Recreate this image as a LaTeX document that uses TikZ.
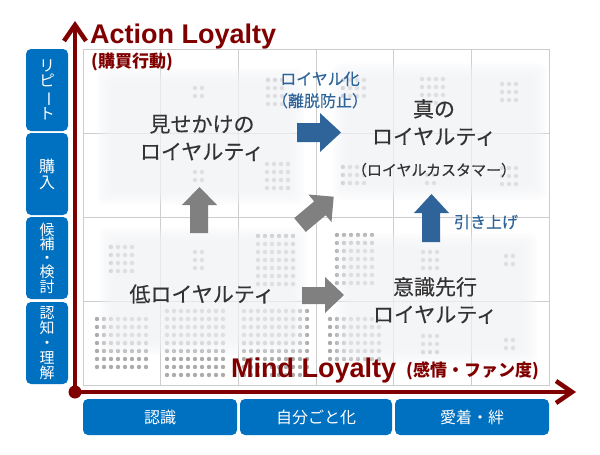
\documentclass[tikz,border=0pt]{standalone}
\usepackage{fontspec}
\usepackage{graphicx}
\setmainfont{Liberation Sans}
\newfontfamily\jp{Noto Sans CJK JP}
\newfontfamily\jpm{Noto Sans CJK JP}[FakeBold=0.35]
\usetikzlibrary{arrows.meta}
\definecolor{axred}{RGB}{128,0,0}
\definecolor{boxblue}{RGB}{0,112,192}
\definecolor{arrblue}{RGB}{46,100,153}
\definecolor{arrgray}{RGB}{128,128,128}
\definecolor{gridgray}{RGB}{205,205,205}
\definecolor{dotgray}{RGB}{172,172,172}
\definecolor{shadecol}{RGB}{241,242,245}
\definecolor{txt}{RGB}{51,51,51}
\newcommand\dotblock[4]{%
  \foreach \i in {1,...,#3}{\foreach \j in {1,...,#4}{%
    \fill[dotgray] ({#1+(\i-1)*7},{#2+(\j-1)*8}) circle (2.2);}}}
\newcommand\softrect[4]{%
  \foreach \k in {-4,...,4}{%
    \fill[shadecol, fill opacity=0.15, rounded corners=8pt]
      ({#1-\k*1.8},{#2-\k*1.8}) rectangle ({#3+\k*1.8},{#4+\k*1.8});}}
\tikzset{
  gridline/.style={gridgray, line width=0.8pt},
  vbox/.style={fill=boxblue, rounded corners=5pt, minimum width=42pt, text=white, align=center, inner sep=0pt},
  hbox/.style={fill=boxblue, rounded corners=5pt, minimum height=36pt, text=white, inner sep=0pt, font=\jp\fontsize{16}{18}\selectfont},
  lbl/.style={text=txt, align=center, font=\jpm\fontsize{21}{27.5}\selectfont, inner sep=0pt},
  bluelbl/.style={text=arrblue, align=center, font=\jpm\fontsize{16}{22}\selectfont, inner sep=0pt},
  axis/.style={axred, line width=4.5pt},
}
\begin{document}
\begin{tikzpicture}[x=1pt,y=-1pt]
\useasboundingbox (0,0) rectangle (600,455);
% grid
\draw[gridline] (83,49) rectangle (549,385);
\foreach \x in {160,238,316,393,471} \draw[gridline] (\x,49) -- (\x,385);
\foreach \y in {133,217,301} \draw[gridline] (83,\y) -- (549,\y);
% dots
\dotblock{111}{247}{4}{4}
\dotblock{195}{252}{2}{3}
\dotblock{258}{236}{6}{7}
\dotblock{97}{319}{8}{7}
\dotblock{167}{311}{9}{9}
\dotblock{244}{311}{10}{9}
\dotblock{337}{235}{6}{7}
\dotblock{423}{252}{3}{3}
\dotblock{506}{256}{2}{2}
\dotblock{330}{319}{8}{6}
\dotblock{423}{336}{3}{3}
\dotblock{506}{340}{2}{2}
\dotblock{195}{88}{2}{2}
\dotblock{268}{80}{3}{4}
\dotblock{343}{80}{4}{3}
\dotblock{267}{164}{4}{4}
\dotblock{195}{172}{2}{2}
\dotblock{422}{79}{4}{4}
\dotblock{502}{84}{3}{3}
\dotblock{343}{167}{4}{3}
\dotblock{427}{175}{2}{2}
\dotblock{502}{168}{3}{3}
% soft shaded regions
\softrect{104}{75}{297}{198}
\softrect{340}{70}{540}{193}
\softrect{106}{234}{300}{348}
\softrect{342}{240}{530}{357}
% axes
\coordinate (O) at (75,392);
\coordinate (ytip) at (75,21);
\coordinate (xtip) at (576,392);
\draw[axis, {Straight Barb[length=16pt,width=22pt]}-{Straight Barb[length=16pt,width=22pt]}] (ytip) -- (O) -- (xtip);
\fill[axred] (O) circle (6.5);
\node[anchor=base west, text=axred, font=\bfseries\fontsize{27}{30}\selectfont, inner sep=0pt] (action) at (90,43) {Action Loyalty};
\node[anchor=base west, text=axred, font=\jp\bfseries\fontsize{17}{20}\selectfont, inner sep=0pt] (actionjp) at (91,67.5) {(購買行動)};
\node[anchor=base west, text=axred, font=\bfseries\fontsize{27}{30}\selectfont, inner sep=0pt] (mind) at (231,377) {Mind Loyalty};
\node[anchor=base west, text=axred, font=\jp\bfseries\fontsize{17}{20}\selectfont, inner sep=0pt] (mindjp) at (406,376.5) {(感情・ファン度)};
% left boxes
\node[vbox, minimum height=82pt, font=\jp\fontsize{15.5}{15.5}\selectfont] (repeat) at (47,90) {リ\\ピ\\\rotatebox[origin=c]{-90}{ー}\\ト};
\node[vbox, minimum height=82pt, font=\jp\fontsize{16}{16}\selectfont] (buy) at (47,174) {購\\入};
\node[vbox, minimum height=82pt, font=\jp\fontsize{15}{14.3}\selectfont] (consider) at (47,258) {候\\補\\・\\検\\討};
\node[vbox, minimum height=82pt, font=\jp\fontsize{15}{15}\selectfont] (aware) at (47,343) {認\\知\\・\\理\\解};
% bottom boxes
\node[hbox, minimum width=154pt] (ninshiki) at (160,417) {認識};
\node[hbox, minimum width=152pt] (jibun) at (316,417) {自分ごと化};
\node[hbox, minimum width=154pt] (aichaku) at (472,417) {愛着・絆};
% block arrows
\fill[arrgray] (190,233) -- (190,205) -- (182,205) -- (199.5,187) -- (217,205) -- (208,205) -- (208,233) -- cycle;
\fill[arrblue] (422,242) -- (422,213) -- (414,213) -- (431.5,194) -- (449,213) -- (440,213) -- (440,242) -- cycle;
\fill[arrblue] (297,123) -- (320,123) -- (320,113) -- (341,132.5) -- (320,152) -- (320,142) -- (297,142) -- cycle;
\fill[arrgray] (302,287) -- (325,287) -- (325,277) -- (344,295) -- (325,313) -- (325,304) -- (302,304) -- cycle;
\begin{scope}[shift={(300,225)}, rotate=40]
\fill[arrgray] (0,-9) -- (26,-9) -- (26,-18) -- (44,0) -- (26,18) -- (26,9) -- (0,9) -- cycle;
\end{scope}
% labels
\node[lbl] (fake) at (202,138) {見せかけの\\ロイヤルティ};
\node[lbl] (true) at (434,122.5) {真の\\ロイヤルティ};
\node[text=txt, font=\jpm\fontsize{15}{18}\selectfont, inner sep=0pt] (customer) at (434,170) {（ロイヤルカスタマー）};
\node[lbl] (low) at (202,294) {低ロイヤルティ};
\node[lbl] (mindfirst) at (435,300.5) {意識先行\\ロイヤルティ};
\node[bluelbl] (loyalize) at (320,90) {ロイヤル化\\（離脱防止）};
\node[bluelbl] (pullup) at (486,222) {引き上げ};
\end{tikzpicture}
\end{document}
